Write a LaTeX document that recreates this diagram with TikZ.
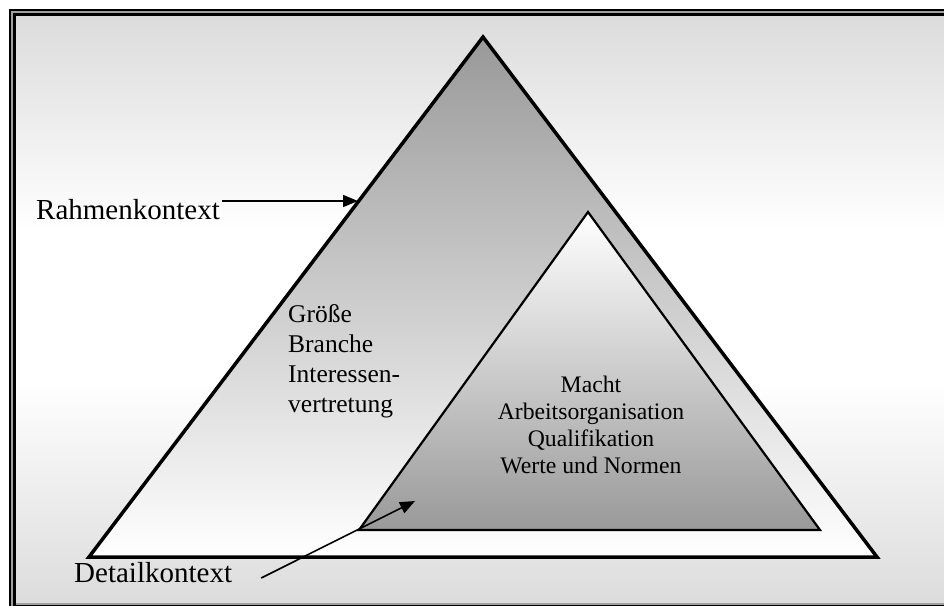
\documentclass[tikz,border=0pt]{standalone}
\usepackage{fontspec}
\setmainfont{Liberation Serif}
\usetikzlibrary{arrows.meta}
\definecolor{bgedge}{RGB}{220,220,220}
\definecolor{midgray}{RGB}{153,153,153}
\definecolor{framegap}{RGB}{160,160,160}
\begin{document}
\begin{tikzpicture}[x=1pt,y=-1pt,
  outerlabel/.style={font=\fontsize{29}{32}\selectfont, inner sep=0pt, anchor=base west},
  midtext/.style={font=\fontsize{25.5}{29.7}\selectfont, inner sep=0pt, align=left, anchor=base west},
  innertext/.style={font=\fontsize{23.7}{26.7}\selectfont, inner sep=0pt, align=center, anchor=base},
  arrowline/.style={line width=1.6pt, -{Triangle[length=15pt,width=12pt]}},
  bigtri/.style={draw, line width=3.5pt, top color=midgray, bottom color=white},
  smalltri/.style={draw, line width=2.2pt, top color=white, bottom color=midgray}]
\useasboundingbox (0,0) rectangle (944,605);
\clip (0,0) rectangle (944,605);
% frame and background
\fill[white] (0,0) rectangle (944,605);
\fill[black] (9,9) rectangle (960,620);
\fill[framegap] (11,11) rectangle (960,620);
\fill[black] (13,13) rectangle (960,620);
\shade[top color=bgedge, bottom color=white] (16,16) rectangle (944,231);
\fill[white] (16,230) rectangle (944,381);
\shade[top color=white, bottom color=bgedge] (16,380) rectangle (944,603);
\fill[framegap] (16,603) rectangle (944,605);
% triangles
\coordinate (A) at (483,37);
\coordinate (B) at (89,557);
\coordinate (C) at (877,557);
\path[bigtri] (A) -- (B) -- (C) -- cycle;
\coordinate (D) at (588,212);
\coordinate (E) at (359,530);
\coordinate (F) at (820,530);
\path[smalltri] (D) -- (E) -- (F) -- cycle;
% texts (base anchor = baseline of the last line)
\node[midtext] (rahmentext) at (288,412) {Größe\\Branche\\Interessen-\\vertretung};
\node[innertext] (detailtext) at (591,473) {Macht\\Arbeitsorganisation\\Qualifikation\\Werte und Normen};
% labels and arrows
\node[outerlabel] (rahmen) at (36,219) {Rahmenkontext};
\coordinate (rtip) at (358,201);
\draw[arrowline] ([xshift=2pt]rahmen.north east |- rtip) -- (rtip);
\node[outerlabel] (detail) at (74,582) {Detailkontext};
\coordinate (dtip) at (415,501);
\draw[arrowline] ([shift={(29,-4)}]detail.base east) -- (dtip);
\end{tikzpicture}
\end{document}
